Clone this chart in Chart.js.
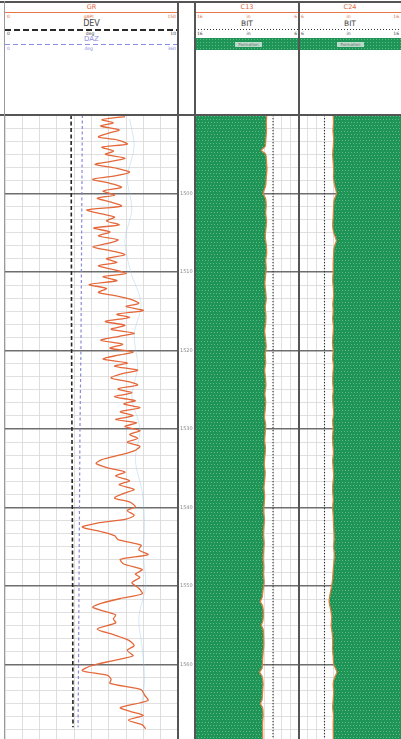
<!DOCTYPE html>
<html>
<head>
<meta charset="utf-8">
<title>Well log – GR / DEV / DAZ / C13 / C24</title>
<script src="https://cdn.jsdelivr.net/npm/chart.js@4.4.0/dist/chart.umd.min.js"></script>
<style>
  html, body { margin: 0; padding: 0; background: #fff; }
  body { width: 401px; height: 739px; position: relative; overflow: hidden;
         font-family: "DejaVu Sans", "Liberation Sans", sans-serif; }
  .t { position: absolute; white-space: nowrap; line-height: 1; text-align: center; }
  .row { position: absolute; display: flex; justify-content: space-between;
         line-height: 1; white-space: nowrap; box-sizing: border-box; padding: 0 2px; }
  .line { position: absolute; }
  .vline { position: absolute; top: 1px; height: 738px; background: #555; z-index: 5; }
  .hline { position: absolute; left: 0; width: 401px; background: #555; z-index: 5; }
  canvas { position: absolute; }
  .green { position: absolute; background-color: #1f9457;
           background-image: radial-gradient(circle, rgba(130,205,160,0.65) 0.7px, transparent 1px);
           background-size: 3px 3px; }
  .fmt { position: absolute; background: rgba(235,242,238,0.75); color: #666;
         font-size: 4px; line-height: 5px; text-align: center; }
</style>
</head>
<body>

<!-- GR track header -->
<div class="t" style="left:5px;width:173px;top:4px;font-size:6.5px;color:#e26a3c;">GR</div>
<div class="line" style="left:5px;width:173px;top:12px;height:1.2px;background:#e8784a;"></div>
<div class="row" style="left:5px;width:173px;top:14.5px;font-size:4.5px;color:#e26a3c;"><span>0</span><span>gAPI</span><span>150</span></div>
<div class="t" style="left:5px;width:173px;top:20px;font-size:8px;color:#444;">DEV</div>
<div class="line" style="left:5px;width:173px;top:28.5px;height:2px;background:repeating-linear-gradient(to right,#2a2a2a 0 6px,transparent 6px 9px);"></div>
<div class="row" style="left:5px;width:173px;top:31.5px;font-size:4.5px;color:#444;"><span>0</span><span>deg</span><span>10</span></div>
<div class="t" style="left:5px;width:173px;top:36px;font-size:7px;color:#8e8ee0;">DAZ</div>
<div class="line" style="left:5px;width:173px;top:43.5px;height:1.5px;background:repeating-linear-gradient(to right,#8e8ee0 0 5px,transparent 5px 8px);"></div>
<div class="row" style="left:5px;width:173px;top:46.5px;font-size:4.5px;color:#8e8ee0;"><span>0</span><span>deg</span><span>360</span></div>

<!-- C13 track header -->
<div class="t" style="left:195px;width:104px;top:4px;font-size:6.5px;color:#e26a3c;">C13</div>
<div class="line" style="left:195px;width:104px;top:12px;height:1.2px;background:#e8784a;"></div>
<div class="row" style="left:195px;width:104px;top:14.5px;font-size:4.5px;color:#e26a3c;"><span>16</span><span>in</span><span>6</span></div>
<div class="t" style="left:195px;width:104px;top:20px;font-size:7.5px;color:#444;">BIT</div>
<div class="line" style="left:195px;width:104px;top:28.5px;height:1.5px;background:repeating-linear-gradient(to right,#333 0 1.5px,transparent 1.5px 3px);"></div>
<div class="row" style="left:195px;width:104px;top:31.5px;font-size:4.5px;color:#444;"><span>16</span><span>in</span><span>6</span></div>
<div class="green" style="left:196px;width:103px;top:38px;height:12px;"></div>
<div class="fmt" style="left:235px;width:27px;top:41.5px;height:5px;">Formation</div>

<!-- C24 track header -->
<div class="t" style="left:299px;width:102px;top:4px;font-size:6.5px;color:#e26a3c;">C24</div>
<div class="line" style="left:299px;width:102px;top:12px;height:1.2px;background:#e8784a;"></div>
<div class="row" style="left:299px;width:102px;top:14.5px;font-size:4.5px;color:#e26a3c;"><span>6</span><span>in</span><span>16</span></div>
<div class="t" style="left:299px;width:102px;top:20px;font-size:7.5px;color:#444;">BIT</div>
<div class="line" style="left:299px;width:102px;top:28.5px;height:1.5px;background:repeating-linear-gradient(to right,#333 0 1.5px,transparent 1.5px 3px);"></div>
<div class="row" style="left:299px;width:102px;top:31.5px;font-size:4.5px;color:#444;"><span>6</span><span>in</span><span>16</span></div>
<div class="green" style="left:300px;width:101px;top:38px;height:12px;"></div>
<div class="fmt" style="left:337px;width:27px;top:41.5px;height:5px;">Formation</div>

<!-- track data areas -->
<canvas id="grCanvas" width="190" height="624" style="left:5px;top:115px;"></canvas>
<canvas id="c13Canvas" width="104" height="624" style="left:195px;top:115px;"></canvas>
<canvas id="c24Canvas" width="102" height="624" style="left:299px;top:115px;"></canvas>

<!-- track frame -->
<div class="hline" style="top:1px;height:2px;"></div>
<div class="hline" style="top:114px;height:2px;"></div>
<div class="vline" style="left:4px;width:1px;background:#9a9a9a;"></div>
<div class="vline" style="left:177px;width:2px;"></div>
<div class="vline" style="left:194px;width:2px;"></div>
<div class="vline" style="left:298px;width:1.5px;"></div>

<script>
// ---- depth range (m) and depth labels ----
const depthTop = 1490;
const depthBottom = 1569.5;
const depthLabels = [1500, 1510, 1520, 1530, 1540, 1550, 1560];
const depthMinorPerMajor = 6;

// ---- GR (gAPI) ----
const grDepth = [
  1490.2,1490.6,1491.0,1491.4,1491.9,1492.3,1492.8,1493.2,1493.7,1494.1,
  1494.6,1495.0,1495.5,1495.9,1496.3,1496.8,1497.3,1497.8,1498.2,1498.7,
  1499.2,1499.7,1500.2,1500.6,1501.1,1501.6,1502.1,1502.6,1503.0,1503.5,
  1504.0,1504.4,1504.9,1505.4,1505.9,1506.3,1506.8,1507.3,1507.8,1508.3,
  1508.8,1509.2,1509.7,1510.2,1510.6,1511.1,1511.6,1512.1,1512.6,1513.0,
  1513.5,1514.0,1514.4,1514.9,1515.4,1515.8,1516.3,1516.8,1517.3,1517.8,
  1518.2,1518.7,1519.2,1519.7,1520.2,1520.6,1521.1,1521.6,1522.0,1522.5,
  1523.0,1523.5,1524.0,1524.4,1524.9,1525.4,1525.9,1526.4,1526.8,1527.3,
  1527.8,1528.3,1528.8,1529.2,1529.7,1530.2,1530.7,1531.2,1531.7,1532.2,
  1532.8,1533.3,1533.9,1534.4,1535.0,1535.5,1536.0,1536.6,1537.1,1537.7,
  1538.2,1538.8,1539.3,1539.9,1540.4,1541.0,1541.5,1542.0,1542.5,1543.1,
  1543.6,1544.1,1544.8,1545.4,1546.0,1546.6,1547.2,1547.9,1548.5,1548.9,
  1549.6,1550.3,1551.0,1551.6,1552.2,1552.7,1553.3,1553.7,1554.2,1554.7,
  1555.5,1556.2,1556.9,1557.6,1558.2,1558.9,1559.5,1560.2,1560.8,1561.4,
  1561.9,1562.4,1563.2,1563.9,1564.6,1565.5,1566.0,1566.5,1567.1,1567.7,
  1568.2
];
const grValue = [
  104,84,94,83,99,90,81,98,106,84,
  94,87,104,92,78,97,108,94,76,91,
  101,85,95,80,92,101,71,84,95,88,
  99,77,91,81,98,91,76,92,104,88,
  97,81,94,105,85,97,73,88,81,95,
  109,116,105,120,97,108,87,104,92,112,
  99,83,102,91,111,98,85,106,95,115,
  100,92,108,115,98,110,95,113,103,117,
  100,111,96,114,104,117,108,115,106,117,
  112,100,84,79,90,104,96,108,99,112,
  103,95,108,113,106,112,105,80,67,84,
  95,98,118,116,124,100,103,119,113,117,
  110,116,119,100,84,76,88,96,94,96,
  80,94,107,112,106,111,94,74,67,89,
  92,91,118,121,124,100,109,120,107,119,
  122
];

// ---- faint companion curve in the GR track ----
const gr2Depth = [1490.5,1494,1498,1502,1506,1510,1514,1518,1522,1526,1530,1534,1538,1542,1546,1550,1554,1558,1562,1566,1568];
const gr2Value = [108,112,106,110,104,109,118,112,115,110,117,113,119,121,120,122,116,119,121,118,120];

// ---- DEV (deg) and DAZ (deg) ----
const devDepth = [1490, 1500, 1510, 1520, 1530, 1540, 1550, 1560, 1568];
const devValue = [3.82, 3.83, 3.84, 3.85, 3.87, 3.89, 3.91, 3.92, 3.93];
const dazValue = [161, 160, 159, 158, 156, 155, 154, 153, 152];

// ---- calipers C13 / C24 and bit size (in) ----
const bitSize = 8.5;
const c13Depth = [
  1490,1491,1492,1493,1494,1494.5,1495,1496,1497,1498,1499,1500,1500.6,1501.5,1502.5,
  1503.5,1504.5,1505.5,1506.5,1507.5,1508.5,1509.5,1510.5,1511.5,1512.5,1513.5,1514.5,
  1515.5,1516.5,1517.5,1518.5,1519.5,1520.5,1521.5,1522.5,1523.5,1524.5,1525.5,1526.5,
  1527.5,1528.5,1529.5,1530.5,1531.5,1532.5,1533.5,1534.5,1535.5,1536.5,1537.5,1538.5,
  1539.5,1540.5,1541.5,1542.5,1543.5,1544.5,1545.5,1546.5,1547.5,1548.5,1549.5,1550.5,
  1551.5,1552,1552.5,1553.5,1554.5,1555,1555.5,1556.5,1557.5,1558.5,1559.5,1560.5,
  1561,1561.5,1562.5,1563.5,1564.5,1565,1565.5,1566.5,1567.5,1569.5
];
const c13Value = [
  9.10,9.14,9.12,9.18,9.25,9.62,9.20,9.12,9.08,9.15,9.20,9.45,9.22,9.15,9.20,
  9.12,9.18,9.25,9.15,9.10,9.20,9.15,9.22,9.28,9.20,9.15,9.25,
  9.18,9.20,9.30,9.22,9.15,9.25,9.20,9.30,9.22,9.18,9.28,9.20,
  9.25,9.32,9.20,9.25,9.30,9.22,9.28,9.35,9.25,9.30,9.38,9.30,
  9.35,9.40,9.32,9.38,9.42,9.35,9.40,9.45,9.38,9.42,9.35,9.45,
  9.55,9.72,9.50,9.42,9.48,9.62,9.45,9.40,9.38,9.45,9.50,9.55,
  9.78,9.55,9.45,9.50,9.55,9.70,9.50,9.45,9.50,9.48
];
const c24Depth = [
  1490,1491,1492,1493,1494,1495,1496,1497,1498,1499,1500,1500.8,1502,1503,1504,
  1505,1506,1506.8,1508,1509,1510,1511,1512,1513,1514,1515,1516,1517,1518,1519,
  1520,1521,1522,1523,1524,1525,1526,1527,1528,1529,1530,1531,1532,1533,1534,
  1535,1536,1537,1538,1539,1540,1541,1542,1543,1544,1545,1546,1547,1548,1549,
  1550,1551,1552,1553,1554,1555,1556,1557,1558,1559,1560,1561,1561.6,1562.5,1563.5,
  1564.5,1565.5,1566.5,1567.5,1569.5
];
const c24Value = [
  9.35,9.38,9.33,9.40,9.36,9.30,9.35,9.40,9.38,9.50,9.68,9.45,9.38,9.35,9.30,
  9.40,9.66,9.45,9.38,9.35,9.35,9.30,9.36,9.40,9.32,9.35,9.30,9.38,9.33,9.28,
  9.35,9.30,9.38,9.32,9.30,9.36,9.30,9.34,9.40,9.30,9.35,9.28,9.32,9.38,9.30,
  9.35,9.40,9.32,9.30,9.36,9.30,9.35,9.38,9.42,9.45,9.40,9.48,9.42,9.35,9.30,
  9.20,9.05,8.95,9.10,9.20,9.15,9.25,9.30,9.28,9.35,9.40,9.72,9.50,9.35,9.40,
  9.35,9.30,9.38,9.35,9.36
];

// ---- helpers ----
const zip = (vals, depths) => vals.map((v, i) => ({ x: v, y: depths[i] }));
const isMajor = v => Math.abs(v - Math.round(v / 10) * 10) < 1e-6;

function depthGrid(scale) {
  const step = 10 / depthMinorPerMajor;
  const ticks = [];
  for (let k = 0; ; k++) {
    const v = depthTop + k * step;
    if (v > depthBottom + 1e-9) break;
    ticks.push({ value: Math.round(v * 1e6) / 1e6 });
  }
  scale.ticks = ticks;
}
function depthLabel(v) {
  const r = Math.round(v);
  return (isMajor(v) && depthLabels.includes(r)) ? String(r) : '';
}
const depthGridStyle = {
  color: c => (c.tick && isMajor(c.tick.value)) ? '#6e6e6e' : '#d8d8d8',
  lineWidth: c => (c.tick && isMajor(c.tick.value)) ? 1.6 : 0.8,
  drawTicks: false
};
// keep axes from reserving space around the plot area
function noPadding(s) {
  s.paddingTop = 0; s.paddingBottom = 0; s.paddingLeft = 0; s.paddingRight = 0;
}

function caliperGrid(scale) {
  const ticks = [];
  for (let k = 0; k <= 12; k++) ticks.push({ value: 6 + k * 10 / 12 });
  scale.ticks = ticks;
}

// dotted green pattern for the formation fill
function formationPattern(ctx) {
  const c = document.createElement('canvas');
  c.width = 3; c.height = 6;
  const g = c.getContext('2d');
  g.fillStyle = '#1f9457';
  g.fillRect(0, 0, 3, 6);
  g.fillStyle = 'rgba(125,200,155,0.7)';
  g.fillRect(1, 1, 1, 1);
  g.fillRect(0, 4, 1, 1);
  return ctx.createPattern(c, 'repeat');
}

const base = {
  type: 'line',
  options: {
    indexAxis: 'y',
    responsive: false,
    animation: false,
    layout: { padding: 0 },
    elements: { point: { radius: 0 } },
    plugins: { legend: { display: false }, tooltip: { enabled: false } }
  }
};

// ---- GR track (with depth column on its right side) ----
new Chart(document.getElementById('grCanvas'), {
  ...base,
  data: {
    datasets: [
      { label: 'GR', data: zip(grValue, grDepth), xAxisID: 'x',
        borderColor: '#e4683a', borderWidth: 1.3, tension: 0.25, fill: false },
      { label: 'DEV', data: zip(devValue, devDepth), xAxisID: 'xDev',
        borderColor: '#262626', borderWidth: 1.6, borderDash: [4, 2.5], fill: false },
      { label: 'DAZ', data: zip(dazValue, devDepth), xAxisID: 'xDaz',
        borderColor: '#8a8ad8', borderWidth: 1.2, borderDash: [3, 2.5], fill: false },
      { label: 'GR2', data: zip(gr2Value, gr2Depth), xAxisID: 'x',
        borderColor: 'rgba(150,200,235,0.4)', borderWidth: 1, tension: 0.3, fill: false }
    ]
  },
  options: {
    ...base.options,
    scales: {
      x: { type: 'linear', min: 0, max: 150, position: 'bottom',
           ticks: { display: false, stepSize: 15 },
           grid: { color: '#d6d6d6', lineWidth: 0.8, drawTicks: false },
           border: { display: false },
           afterFit: s => { s.height = 0; noPadding(s); } },
      xDev: { type: 'linear', min: 0, max: 10, display: false },
      xDaz: { type: 'linear', min: 0, max: 360, display: false },
      y: { type: 'linear', position: 'right', reverse: true, min: depthTop, max: depthBottom,
           afterBuildTicks: depthGrid,
           afterFit: s => { s.width = 17; noPadding(s); },
           ticks: { callback: depthLabel, autoSkip: false, maxRotation: 0, padding: 2,
                    color: '#8a8a8a', font: { size: 5, family: 'DejaVu Sans' } },
           grid: depthGridStyle,
           border: { display: true, color: '#555', width: 2 } }
    }
  }
});

// ---- caliper tracks ----
function caliperChart(id, values, depths, reverse) {
  const canvas = document.getElementById(id);
  const pattern = formationPattern(canvas.getContext('2d'));
  return new Chart(canvas, {
    ...base,
    data: {
      datasets: [
        { label: id, data: zip(values, depths), borderColor: '#e0803a', borderWidth: 1.2,
          tension: 0.2, fill: { value: 16 }, backgroundColor: pattern },
        { label: 'BIT', data: [{ x: bitSize, y: depthTop }, { x: bitSize, y: depthBottom }],
          borderColor: '#333', borderWidth: 1.1, borderDash: [1.2, 1.8], fill: false }
      ]
    },
    options: {
      ...base.options,
      scales: {
        x: { type: 'linear', min: 6, max: 16, reverse: reverse,
             afterBuildTicks: caliperGrid,
             ticks: { display: false },
             grid: { color: '#d8d8d8', lineWidth: 0.8, drawTicks: false },
             border: { display: false },
             afterFit: s => { s.height = 0; noPadding(s); } },
        y: { type: 'linear', position: 'left', reverse: true, min: depthTop, max: depthBottom,
             afterBuildTicks: depthGrid,
             afterFit: s => { s.width = 0; noPadding(s); },
             ticks: { display: false },
             grid: depthGridStyle,
             border: { display: false } }
      }
    }
  });
}
caliperChart('c13Canvas', c13Value, c13Depth, true);
caliperChart('c24Canvas', c24Value, c24Depth, false);
</script>
</body>
</html>
